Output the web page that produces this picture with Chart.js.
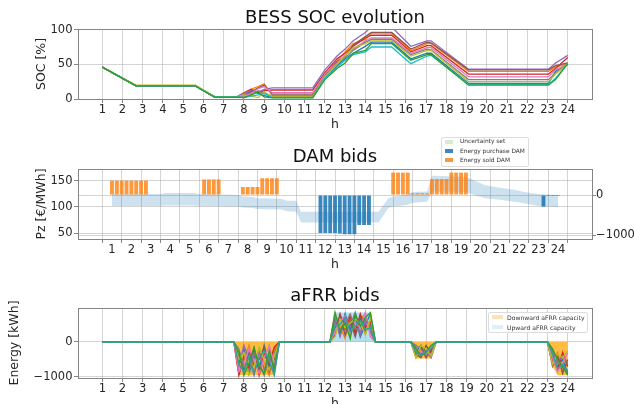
<!DOCTYPE html>
<html>
<head>
<meta charset="utf-8">
<script src="https://cdn.jsdelivr.net/npm/chart.js@4.4.1/dist/chart.umd.min.js"></script>
<style>
html, body { margin: 0; padding: 0; background: #fff; overflow: hidden; }
body { width: 634px; height: 404px; position: relative; font-family: "DejaVu Sans", sans-serif; }
canvas { position: absolute; left: 0; }
.legend { position: absolute; background: rgba(255,255,255,0.9); border: 1px solid #dcdcdc; border-radius: 2px; }
.legend i { position: absolute; display: block; }
.legend b { position: absolute; font-weight: normal; color: #333; white-space: nowrap; line-height: 7px; }
</style>
</head>
<body>
<canvas id="soc" width="634" height="135" style="top:0px"></canvas>
<canvas id="dam" width="634" height="140" style="top:135px"></canvas>
<canvas id="afrr" width="634" height="139" style="top:275px"></canvas>

<div class="legend" style="left:441px;top:137px;width:86px;height:28px;font-size:5.9px">
  <i style="left:3px;top:2px;width:8px;height:4px;background:#d3ecd3"></i><b style="left:18px;top:0px">Uncertainty set</b>
  <i style="left:3px;top:11px;width:8px;height:4px;background:#3d85c6"></i><b style="left:18px;top:9.5px">Energy purchase DAM</b>
  <i style="left:3px;top:20px;width:8px;height:4px;background:#f89a3b"></i><b style="left:18px;top:18.5px">Energy sold DAM</b>
</div>
<div class="legend" style="left:488px;top:312px;width:98px;height:19px;font-size:6.1px">
  <i style="left:2.5px;top:2px;width:11.5px;height:4.3px;background:#fde2b5"></i><b style="left:18px;top:0.7px">Downward aFRR capacity</b>
  <i style="left:2.5px;top:12px;width:11.5px;height:4.3px;background:#def0f7"></i><b style="left:18px;top:10.5px">Upward aFRR capacity</b>
</div>

<script>
const hourTicks = [1, 2, 3, 4, 5, 6, 7, 8, 9, 10, 11, 12, 13, 14, 15, 16, 17, 18, 19, 20, 21, 22, 23, 24];

// BESS SOC evolution [%], one line per scenario
const socHours  = [1, 2.67, 5.6, 6.55, 7.65, 8, 8.35, 8.7, 9, 9.4, 11.4, 12, 12.6, 13, 13.4, 14, 14.3, 15.3, 16.25, 17.05, 17.25, 19.1, 23.05, 23.4, 24];
const socBlue   = [46, 19, 19, 3, 3, 4, 12, 8, 5, 2.5, 2.5, 30, 48, 58, 66, 76, 82, 82, 58, 66, 66, 22.5, 22.5, 40, 51];
const socOrange = [46, 19, 19, 3, 3, 6, 14, 18, 22, 5, 5, 35, 55, 68, 80, 86, 95, 95, 70, 80, 80, 40, 40, 46, 51];
const socRed    = [46, 19, 19, 3, 3, 9, 14, 9, 12, 13, 13, 38, 58, 66, 76, 88, 92, 92, 68, 77, 77, 36, 36, 44, 60];
const socPurple = [46, 19, 19, 3, 3, 8, 12, 10, 14, 16, 16, 42, 62, 72, 84, 96, 104, 104, 76, 84, 84, 43, 43, 52, 63];
const socBrown  = [46, 19, 19, 3, 3, 5, 10, 16, 20, 7, 7, 34, 54, 62, 78, 90, 96, 96, 72, 82, 81, 42, 42, 48, 52];
const socPink   = [46, 19, 19, 3, 3, 4, 8, 15, 18, 9, 9, 36, 52, 64, 72, 84, 88, 88, 66, 74, 74, 32, 32, 42, 50];
const socGray   = [46, 19, 19, 3, 3, 2, 6, 12, 8, 4, 4, 33, 50, 60, 70, 82, 86, 86, 64, 72, 71, 28, 28, 38, 50];
const socOlive  = [46, 20, 20, 3.5, 3.5, 6, 4, 2, 10, 3, 3, 32, 50, 63, 74, 80, 84, 84, 62, 70, 70, 25, 25, 36, 51];
const socCyan   = [46, 19, 19, 3, 3, 2, 4, 6, 8, 2, 2, 30, 46, 56, 64, 68, 75, 75, 51, 62, 63, 21, 21, 30, 51];
const socGreen  = [46, 19, 19, 2.5, 2.5, 2, 6, 10, 3, 1.5, 1.5, 28, 44, 52, 66, 70, 80, 80, 56, 64, 64, 20, 20, 28, 51];

// DAM bids: price uncertainty band [€/MWh] and energy bids [kWh]
const bandHours = [1, 3.5, 3.75, 5.25, 5.5, 7.5, 7.75, 8.25, 8.5, 9.75, 10, 10.5, 10.75, 14.75, 15.25, 15.5, 16.25, 16.5, 17.25, 17.5, 19.25, 19.75, 20.25, 21, 21.75, 22.25, 23, 24];
const bandLow   = [102, 102, 103, 103, 102, 101, 99, 98, 96, 95, 92, 91, 70, 70, 98, 101, 104, 108, 110, 130, 129, 122, 117, 114, 110, 107, 102, 100];
const bandHigh  = [125, 125, 127, 127, 125, 123, 120, 119, 117, 116, 112, 112, 91, 91, 117, 120, 124, 129, 130, 160, 158, 150, 142, 137, 133, 129, 125, 123];
const soldHours  = [1, 1.25, 1.5, 1.75, 2, 2.25, 2.5, 2.75, 5.75, 6, 6.25, 6.5, 7.75, 8, 8.25, 8.5, 8.75, 9, 9.25, 9.5, 15.5, 15.75, 16, 16.25, 16.5, 16.75, 17, 17.25, 17.5, 17.75, 18, 18.25, 18.5, 18.75, 19, 19.25];
const soldEnergy = [360, 360, 360, 360, 360, 360, 360, 360, 390, 390, 390, 390, 200, 200, 200, 200, 420, 420, 420, 420, 560, 560, 560, 560, 45, 45, 45, 45, 400, 400, 400, 400, 560, 560, 560, 560];
const buyHours   = [11.75, 12, 12.25, 12.5, 12.75, 13, 13.25, 13.5, 13.75, 14, 14.25, 23.25, 23.5, 23.75, 24];
const buyEnergy  = [-950, -950, -950, -950, -960, -980, -980, -980, -750, -750, -750, -290, -25, -25, -25];

// aFRR bids [kWh]
const afrrHours = [1, 7.5, 7.75, 8, 8.25, 8.5, 8.75, 9, 9.25, 9.5, 9.75, 12.25, 12.5, 12.75, 13, 13.25, 13.5, 13.75, 14, 14.25, 14.5, 16.25, 16.5, 16.75, 17, 17.25, 17.5, 23, 23.25, 23.5, 23.75, 24];
const downCap = [0, 0, -950, -950, -950, -950, -950, -950, -950, -950, 0, 0, 0, 0, 0, 0, 0, 0, 0, 0, 0, 0, -470, -470, -470, -470, 0, 0, -700, -950, -950, -950];
const upCap   = [0, 0, 0, 0, 0, 0, 0, 0, 0, 0, 0, 0, 840, 840, 840, 840, 840, 840, 840, 840, 0, 0, 0, 0, 0, 0, 0, 0, 0, 0, 0, 0];
const afrrBlue   = [0, 0, -600, -200, -900, -400, -800, -100, -700, -300, 0, 0, 600, 200, 800, 350, 700, 150, 500, 800, 0, 0, -300, -100, -400, -200, 0, 0, -400, -700, -500, -900];
const afrrOrange = [0, 0, -900, -500, -100, -850, -300, -600, -950, -200, 0, 0, 800, 450, 100, 700, 300, 650, 800, 250, 0, 0, -450, -250, -150, -350, 0, 0, -600, -300, -800, -600];
const afrrRed    = [0, 0, -950, -400, -750, -200, -950, -350, -600, -150, 0, 0, 200, 800, 350, 750, 250, 800, 400, 600, 0, 0, -400, -150, -450, -250, 0, 0, -500, -800, -300, -700];
const afrrPurple = [0, 0, -700, -100, -500, -950, -250, -800, -450, -900, 0, 0, 700, 150, 650, 450, 840, 200, 600, 300, 0, 0, -150, -350, -250, -450, 0, 0, -300, -600, -400, -650];
const afrrBrown  = [0, 0, -400, -800, -300, -650, -500, -150, -850, -500, 0, 0, 400, 750, 200, 600, 150, 700, 300, 500, 0, 0, -350, -450, -100, -300, 0, 0, -700, -400, -900, -500];
const afrrPink   = [0, 0, -850, -650, -200, -500, -900, -450, -100, -650, 0, 0, 300, 600, 750, 200, 550, 400, 840, 150, 0, 0, -250, -300, -350, -150, 0, 0, -450, -850, -600, -300];
const afrrGray   = [0, 0, -200, -700, -850, -300, -600, -950, -400, -700, 0, 0, 550, 350, 500, 800, 400, 300, 650, 450, 0, 0, -100, -200, -400, -350, 0, 0, -250, -550, -750, -800];
const afrrOlive  = [0, 0, -500, -300, -950, -700, -150, -500, -800, -400, 0, 0, 150, 650, 400, 550, 650, 550, 200, 700, 0, 0, -450, -100, -200, -400, 0, 0, -650, -350, -450, -250];
const afrrCyan   = [0, 0, -650, -850, -400, -900, -450, -250, -550, -950, 0, 0, 450, 500, 700, 300, 450, 600, 350, 400, 0, 0, -300, -380, -250, -200, 0, 0, -350, -750, -650, -850];
const afrrGreen  = [0, 0, -300, -950, -600, -150, -700, -900, -250, -800, 0, 0, 840, 300, 550, 100, 800, 450, 700, 840, 0, 0, -200, -400, -300, -100, 0, 0, -200, -500, -700, -950];

const tickFont = { family: 'DejaVu Sans', size: 11.5 };
const labelFont = { family: 'DejaVu Sans', size: 12.5 };
const titleFont = { family: 'DejaVu Sans', size: 18, weight: 'normal' };
const textColor = '#262626';
const gridColor = 'rgba(170,170,170,0.5)';

const pts = (xs, ys) => xs.map((x, i) => ({ x: x, y: ys[i] }));
const fmt = v => v < 0 ? '\u2212' + Math.abs(v) : String(v);

const frame = {
    id: 'frame',
    afterDraw(chart) {
        const { ctx, chartArea: a } = chart;
        ctx.save();
        ctx.strokeStyle = '#858585';
        ctx.lineWidth = 1;
        ctx.strokeRect(Math.round(a.left) + 0.5, Math.round(a.top) + 0.5, Math.round(a.right - a.left), Math.round(a.bottom - a.top));
        ctx.restore();
    }
};

function hourAxis() {
    return {
        type: 'linear', min: -0.2, max: 25.2,
        afterBuildTicks: s => { s.ticks = hourTicks.map(v => ({ value: v })); },
        afterFit: s => { s.height = 36; },
        ticks: { font: tickFont, color: textColor, padding: 0, maxRotation: 0, autoSkip: false, callback: v => String(v) },
        grid: { color: gridColor, tickLength: 4, tickColor: '#888' },
        border: { display: false },
        title: { display: true, text: 'h', font: labelFont, color: textColor, padding: { top: 0, bottom: 2.5 } }
    };
}

function valueAxis(opts) {
    return {
        type: 'linear', position: opts.position || 'left', min: opts.min, max: opts.max,
        afterBuildTicks: s => { s.ticks = opts.ticks.map(v => ({ value: v })); },
        afterFit: s => { s.width = opts.width; },
        ticks: { font: tickFont, color: textColor, padding: 1.5, callback: fmt },
        grid: { color: gridColor, tickLength: 4, tickColor: '#888' },
        border: { display: false },
        title: { display: !!opts.title, text: opts.title, font: labelFont, color: textColor, padding: { top: opts.titlePad || 0 } }
    };
}

function baseOptions(title, padTop, padBottom, padRight) {
    return {
        responsive: false, animation: false, devicePixelRatio: 1,
        layout: { padding: { left: 0, right: padRight, top: 0, bottom: 0 } },
        elements: { point: { radius: 0 }, line: { tension: 0 } },
        plugins: {
            legend: { display: false },
            tooltip: { enabled: false },
            title: { display: true, text: title, font: titleFont, color: '#111', fullSize: false, padding: { top: padTop, bottom: padBottom } }
        }
    };
}

// ---- BESS SOC evolution ----
const socSeries = [
    ['#1f77b4', socBlue], ['#ff7f0e', socOrange], ['#d62728', socRed], ['#9467bd', socPurple],
    ['#8c564b', socBrown], ['#e377c2', socPink], ['#7f7f7f', socGray], ['#bcbd22', socOlive],
    ['#17becf', socCyan], ['#2ca02c', socGreen]
];
const socOpts = baseOptions('BESS SOC evolution', 7.2, 0.2, 42);
socOpts.scales = {
    x: hourAxis(),
    y: valueAxis({ min: 0, max: 101, ticks: [0, 50, 100], width: 78, title: 'SOC [%]', titlePad: 34.5 })
};
new Chart(document.getElementById('soc'), {
    type: 'line',
    data: {
        datasets: socSeries.map((s, i) => ({
            data: pts(socHours, s[1]), borderColor: s[0], borderWidth: 1.3,
            fill: false, order: socSeries.length - i
        }))
    },
    options: socOpts,
    plugins: [frame]
});

// ---- DAM bids ----
const damOpts = baseOptions('DAM bids', 11.2, 1.2, 0);
damOpts.scales = {
    x: hourAxis(),
    y: valueAxis({ min: 38.5, max: 173, ticks: [50, 100, 150], width: 78, title: 'Pz [\u20ac/MWh]', titlePad: 34.5 }),
    y1: valueAxis({ position: 'right', min: -1100, max: 650, ticks: [-1000, 0], width: 42 })
};
damOpts.scales.y1.ticks.padding = 0;
new Chart(document.getElementById('dam'), {
    type: 'line',
    data: {
        datasets: [
            { label: 'band low', data: pts(bandHours, bandLow), borderWidth: 0, fill: false, yAxisID: 'y', order: 3 },
            { label: 'Uncertainty set', data: pts(bandHours, bandHigh), borderWidth: 0, yAxisID: 'y', order: 3,
              fill: '-1', backgroundColor: 'rgba(31,119,180,0.22)' },
            { type: 'bar', label: 'Energy purchase DAM', data: pts(buyHours, buyEnergy), yAxisID: 'y1', stack: 'dam',
              backgroundColor: 'rgba(31,119,180,0.88)', borderWidth: 0, barPercentage: 0.8, categoryPercentage: 1, order: 1 },
            { type: 'bar', label: 'Energy sold DAM', data: pts(soldHours, soldEnergy), yAxisID: 'y1', stack: 'dam',
              backgroundColor: 'rgba(255,127,14,0.8)', borderWidth: 0, barPercentage: 0.8, categoryPercentage: 1, order: 1 }
        ]
    },
    options: damOpts,
    plugins: [frame]
});

// ---- aFRR bids ----
const afrrSeries = [
    ['#1f77b4', afrrBlue], ['#ff7f0e', afrrOrange], ['#d62728', afrrRed], ['#9467bd', afrrPurple],
    ['#8c564b', afrrBrown], ['#e377c2', afrrPink], ['#7f7f7f', afrrGray], ['#bcbd22', afrrOlive],
    ['#2ca02c', afrrGreen], ['#32a09a', afrrCyan]
];
const afrrOpts = baseOptions('aFRR bids', 10.2, 1.2, 42);
afrrOpts.scales = {
    x: hourAxis(),
    y: valueAxis({ min: -1030, max: 970, ticks: [-1000, 0], width: 78, title: 'Energy [kWh]', titlePad: 7.5 })
};
new Chart(document.getElementById('afrr'), {
    type: 'line',
    data: {
        datasets: [
            { label: 'Downward aFRR capacity', data: pts(afrrHours, downCap), borderWidth: 0, fill: 'origin',
              backgroundColor: 'rgba(255,165,0,0.75)', order: 20 },
            { label: 'Upward aFRR capacity', data: pts(afrrHours, upCap), borderWidth: 0, fill: 'origin',
              backgroundColor: 'rgba(135,200,225,0.6)', order: 20 }
        ].concat(afrrSeries.map((s, i) => ({
            data: pts(afrrHours, s[1]), borderColor: s[0], borderWidth: 1.4,
            fill: false, order: afrrSeries.length - i
        })))
    },
    options: afrrOpts,
    plugins: [frame]
});
</script>
</body>
</html>
